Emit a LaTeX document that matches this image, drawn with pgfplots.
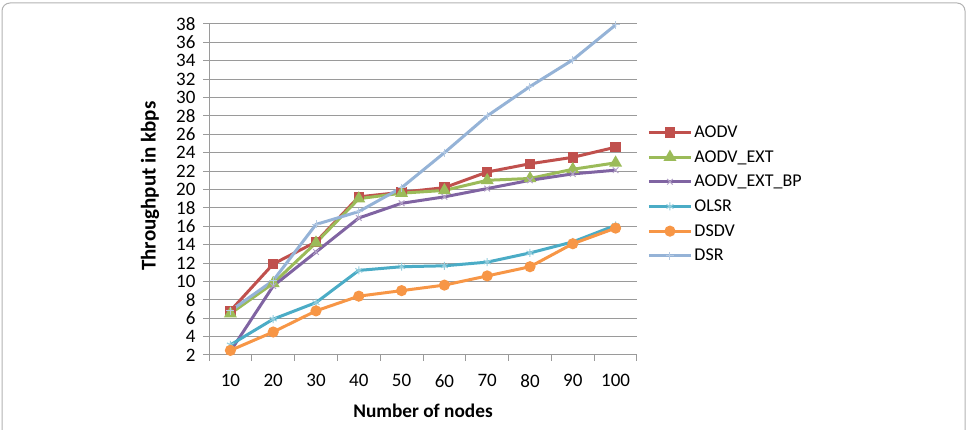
\documentclass[border=0pt]{standalone}
\usepackage{pgfplots}
\pgfplotsset{compat=1.18}
\usepackage{fontspec}
\setmainfont{Carlito}
\definecolor{cAODV}{HTML}{C0504D}
\definecolor{cEXT}{HTML}{9BBB59}
\definecolor{cBP}{HTML}{8064A2}
\definecolor{cOLSR}{HTML}{4BACC6}
\definecolor{cDSDV}{HTML}{F79646}
\definecolor{cDSR}{HTML}{95B3D7}
\definecolor{gridc}{HTML}{9A9A9A}
\begin{document}
\begin{tikzpicture}[x=1pt,y=1pt]
\path[use as bounding box] (0,0) rectangle (967,430);
\draw[gray!60, line width=1pt, rounded corners=8pt] (2,-20) rectangle (965,427);
\begin{axis}[
  at={(209pt,75pt)}, anchor=south west,
  scale only axis, width=428pt, height=331pt,
  xmin=-0.5, xmax=9.5, ymin=2, ymax=38,
  ytick={2,4,...,38},
  xtick={-0.5,0.5,...,9.5}, xticklabels={},
  extra x ticks={0,1,...,9},
  extra x tick labels={10,20,30,40,50,60,70,80,90,100},
  extra x tick style={major tick length=0pt},
  axis x line*=bottom, axis y line*=left,
  axis line style={gridc, line width=1pt},
  tick align=outside, major tick length=6pt,
  tick style={gridc, line width=1pt},
  ymajorgrids, grid style={gridc, line width=1pt},
  /pgf/number format/assume math mode=true,
  tick label style={font=\fontsize{19}{21}\selectfont},
  yticklabel style={xshift=-4pt},
  xticklabel style={yshift=-16pt},
  xlabel={\textbf{Number of nodes}},
  xlabel style={at={(rel axis cs:0.5,0)}, anchor=center, yshift=-56pt, font=\fontsize{19.3}{21}\selectfont},
  ylabel={\textbf{Throughput in kbps}},
  ylabel style={at={(rel axis cs:-0.1379,0.51)}, anchor=center, font=\fontsize{21}{23}\selectfont},
  every axis plot/.append style={line width=3pt},
  legend image code/.code={\draw[mark repeat=2,mark phase=2,#1] plot coordinates {(0pt,0pt)(21pt,0pt)(42pt,0pt)};},
  legend style={at={(rel axis cs:1.024,0.486)}, anchor=west, draw=none, fill=none,
    font=\fontsize{18}{20}\selectfont, row sep=7.5pt, inner sep=0pt},
  legend cell align=left,
]
\addplot[cAODV, mark=square*, mark size=3.7pt, mark options={solid}] coordinates {
(0,6.8)(1,11.9)(2,14.3)(3,19.2)(4,19.7)(5,20.2)(6,21.9)(7,22.8)(8,23.5)(9,24.6)};
\addlegendentry{AODV}
\addplot[cEXT, mark=triangle*, mark size=4.5pt] coordinates {
(0,6.5)(1,9.8)(2,14.2)(3,19.0)(4,19.6)(5,19.9)(6,21.0)(7,21.2)(8,22.2)(9,22.9)};
\addlegendentry{AODV\_EXT}
\addplot[cBP, mark=x, mark size=4pt, mark options={line width=1pt, draw=cBP!60}] coordinates {
(0,2.4)(1,9.5)(2,13.2)(3,16.9)(4,18.5)(5,19.2)(6,20.1)(7,21.0)(8,21.7)(9,22.1)};
\addlegendentry{AODV\_EXT\_BP}
\addplot[cOLSR, mark=asterisk, mark size=4pt, mark options={line width=1pt, draw=cOLSR!60}] coordinates {
(0,3.1)(1,5.9)(2,7.7)(3,11.2)(4,11.6)(5,11.7)(6,12.1)(7,13.1)(8,14.3)(9,16.1)};
\addlegendentry{OLSR}
\addplot[cDSDV, mark=*, mark size=4pt] coordinates {
(0,2.5)(1,4.5)(2,6.8)(3,8.4)(4,9.0)(5,9.6)(6,10.6)(7,11.6)(8,14.1)(9,15.8)};
\addlegendentry{DSDV}
\addplot[cDSR, mark=+, mark size=4pt, mark options={line width=1pt, draw=cDSR!70}] coordinates {
(0,6.8)(1,10.1)(2,16.2)(3,17.6)(4,20.2)(5,24.0)(6,28.0)(7,31.2)(8,34.1)(9,37.9)};
\addlegendentry{DSR}
\end{axis}
\end{tikzpicture}
\end{document}
